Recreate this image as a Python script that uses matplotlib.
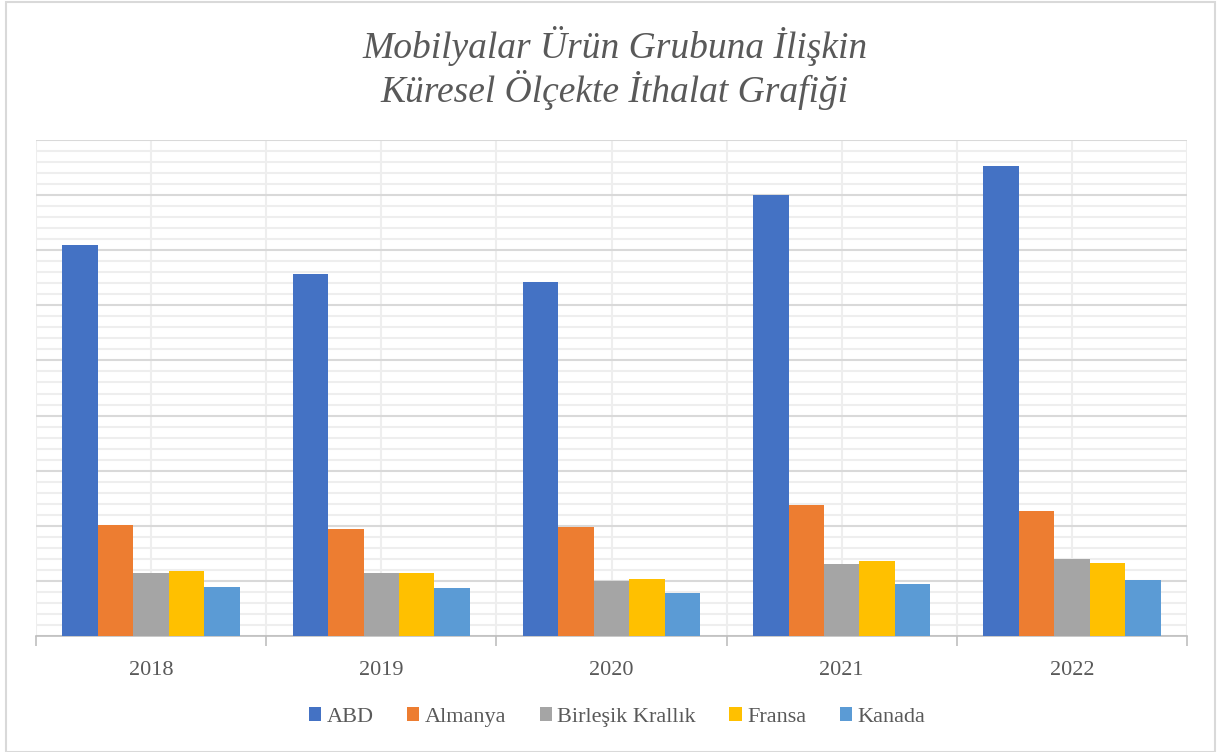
import numpy as np
import matplotlib.pyplot as plt
from matplotlib.patches import Rectangle
from matplotlib.ticker import MultipleLocator

# ------------------------------ Data ----------------------------------------
years = ['2018', '2019', '2020', '2021', '2022']
countries = ['ABD', 'Almanya', 'Birleşik Krallık', 'Fransa', 'Kanada']
abd      = [7.10, 6.57, 6.42, 8.00, 8.53]
almanya  = [2.01, 1.94, 1.98, 2.38, 2.27]
birlesik = [1.14, 1.14, 1.00, 1.31, 1.40]
fransa   = [1.18, 1.14, 1.03, 1.36, 1.32]
kanada   = [0.89, 0.87, 0.78, 0.94, 1.02]
series = [abd, almanya, birlesik, fransa, kanada]
colors = ['#4472C4', '#ED7D31', '#A5A5A5', '#FFC000', '#5B9BD5']

plt.rcParams['font.family'] = ['Liberation Serif', 'DejaVu Serif']

fig = plt.figure(figsize=(12.17, 7.52), dpi=100)
ax = fig.add_axes([36 / 1217, 1 - 636 / 752, (1187 - 36) / 1217, (636 - 140) / 752])

# Border around the chart area
fig.patches.append(Rectangle((6 / 1217, 0.5 / 752), 1209 / 1217, 750 / 752,
                             transform=fig.transFigure, fill=False,
                             edgecolor='#D9D9D9', linewidth=1.5))

x = np.arange(len(years))
width = 0.154
for i, (vals, col, name) in enumerate(zip(series, colors, countries)):
    ax.bar(x + (i - 2) * width, vals, width=width, color=col, label=name, zorder=3)

ax.set_xlim(-0.5, len(years) - 0.5)
ax.set_ylim(0, 9)

# Gridlines: major and minor horizontal, vertical at centers and boundaries
ax.yaxis.set_major_locator(MultipleLocator(1))
ax.yaxis.set_minor_locator(MultipleLocator(0.2))
ax.grid(axis='y', which='major', color='#D9D9D9', linewidth=1.5, zorder=0)
ax.grid(axis='y', which='minor', color='#EEEEEE', linewidth=1.5, zorder=0)
for xv in np.arange(-0.5, len(years), 0.5):
    ax.axvline(xv, color='#EEEEEE', linewidth=1.5, zorder=0)

ax.set_xticks(x)
ax.set_xticklabels(years, fontsize=16, color='#595959')
ax.set_xticks(np.arange(-0.5, len(years), 1), minor=True)
ax.tick_params(axis='x', which='major', length=0, pad=18)
ax.tick_params(axis='x', which='minor', length=7, color='#BFBFBF', width=1.2)
ax.tick_params(axis='y', which='both', left=False, labelleft=False)

for s in ['top', 'right', 'left']:
    ax.spines[s].set_visible(False)
ax.spines['bottom'].set_color('#BFBFBF')
ax.spines['bottom'].set_linewidth(1.2)

fig.text(0.505, 1 - 68 / 752, 'Mobilyalar Ürün Grubuna İlişkin\nKüresel Ölçekte İthalat Grafiği',
         ha='center', va='center', fontsize=27, style='italic', color='#595959',
         linespacing=1.1)

fig.legend(loc='center', bbox_to_anchor=(0.507, 1 - 717 / 752), ncol=5, frameon=False,
           fontsize=16, labelcolor='#595959', handlelength=0.55, handleheight=0.55,
           handletextpad=0.25, columnspacing=1.5)

plt.savefig('out.png', dpi=100)
